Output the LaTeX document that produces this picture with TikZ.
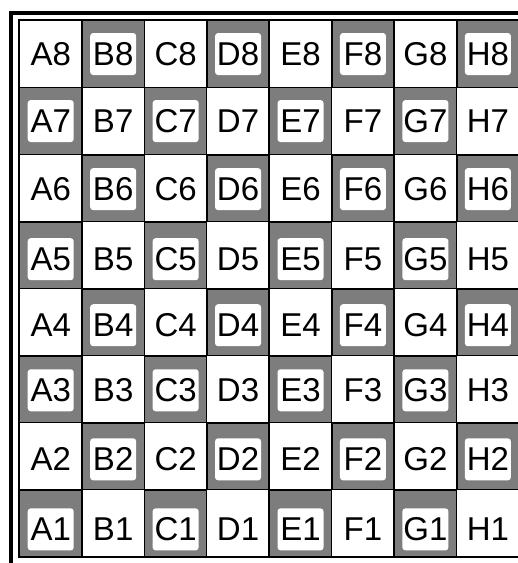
\documentclass[tikz,border=0pt]{standalone}
\usepackage{fontspec}
\setmainfont{Liberation Sans}
\usetikzlibrary{positioning}
\definecolor{boardgray}{RGB}{125,125,125}

\begin{document}
\begin{tikzpicture}[x=1pt, y=-1pt,
  lightsq/.style={rectangle, draw=black, line width=0.9pt, fill=white,
                  minimum width=62.45pt, minimum height=67.05pt, inner sep=0pt},
  darksq/.style={lightsq, fill=boardgray, line width=1.8pt},
  sqtext/.style={font=\fontsize{33}{33}\selectfont, inner sep=0pt},
  darktext/.style={sqtext, fill=white, rounded corners=3pt,
                   minimum width=46pt, minimum height=42pt}
]
\useasboundingbox (0,0) rectangle (518,563);
% frame round the board
\draw[line width=4pt] (11,12.5) rectangle (530,564.5);
% squares, rank by rank
\foreach \f [count=\i] in {A,B,C,D,E,F,G,H} {
  \foreach \r/\dy in {8/0,7/0,6/1,5/4,4/3,3/1,2/3,1/6} {
    \pgfmathtruncatemacro\dark{mod(\i+\r,2)==0}
    \ifnum\dark=1
      \node[darksq] (sq\f\r) at ({19.5+62.45*(\i-0.5)},{20.5+67.05*(8.5-\r)}) {};
      \node[darktext] (lb\f\r) at ([yshift=-\dy pt]sq\f\r.center) {\f\r};
    \else
      \node[lightsq] (sq\f\r) at ({19.5+62.45*(\i-0.5)},{20.5+67.05*(8.5-\r)}) {};
      \node[sqtext] (lb\f\r) at ([yshift=-\dy pt]sq\f\r.center) {\f\r};
    \fi
  }
}
\draw[line width=1.2pt] (sqA8.north west) rectangle (sqH1.south east);
\end{tikzpicture}
\end{document}
